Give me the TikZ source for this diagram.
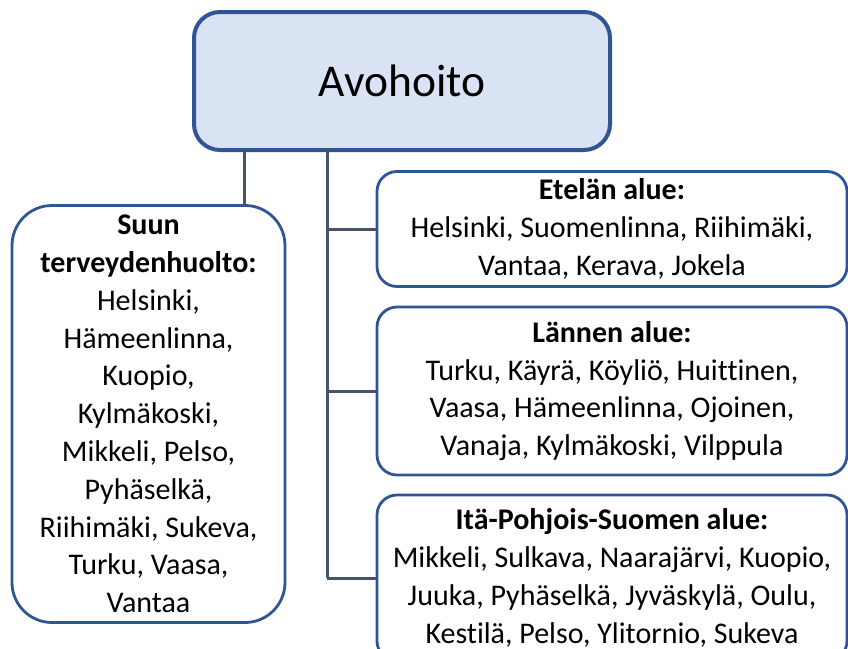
\documentclass[tikz,border=0pt]{standalone}
\usepackage{fontspec}
\setmainfont[Ligatures={NoCommon}]{Carlito}
\definecolor{bord}{HTML}{2F5597}
\definecolor{topfill}{HTML}{DAE3F3}
\definecolor{conn}{HTML}{44546A}
\begin{document}
\begin{tikzpicture}[x=1pt,y=-1pt,
  box/.style={draw=bord,line width=2.8pt,fill=white,align=center,inner sep=0pt,
    font=\fontsize{30}{37.8}\selectfont},
  topbox/.style={draw=bord,line width=4pt,fill=topfill,rounded corners=26pt,
    minimum width=416pt,minimum height=138pt,font=\fontsize{45.5}{56}\selectfont},
  link/.style={draw=conn,line width=3pt}]
\useasboundingbox (0,0) rectangle (848,648);
\node[topbox] (top) at (402,81) {Avohoito};
\node[box,rounded corners=40pt,minimum width=273pt,minimum height=417pt] (left) at (148.5,414)
  {\textbf{Suun}\\\textbf{terveydenhuolto:}\\Helsinki,\\Hämeenlinna,\\Kuopio,\\Kylmäkoski,\\Mikkeli, Pelso,\\Pyhäselkä,\\Riihimäki, Sukeva,\\Turku, Vaasa,\\Vantaa};
\node[box,rounded corners=20pt,minimum width=470pt,minimum height=115pt] (r1) at (612,229)
  {\textbf{Etelän alue:}\\Helsinki, Suomenlinna, Riihimäki,\\Vantaa, Kerava, Jokela};
\node[box,rounded corners=20pt,minimum width=470pt,minimum height=168pt] (r2) at (612,391)
  {\textbf{Lännen alue:}\\Turku, Käyrä, Köyliö, Huittinen,\\Vaasa, Hämeenlinna, Ojoinen,\\Vanaja, Kylmäkoski, Vilppula};
\node[box,rounded corners=20pt,minimum width=470pt,minimum height=166pt] (r3) at (612,578)
  {\textbf{Itä-Pohjois-Suomen alue:}\\Mikkeli, Sulkava, Naarajärvi, Kuopio,\\Juuka, Pyhäselkä, Jyväskylä, Oulu,\\Kestilä, Pelso, Ylitornio, Sukeva};
\coordinate (c1) at (244,150);
\coordinate (c2) at (327,150);
\draw[link] (c1) -- (c1 |- left.north);
\draw[link] (c2) -- (c2 |- r3.west);
\draw[link] (c2 |- r1.west) -- (r1.west);
\draw[link] (c2 |- r2.west) -- (r2.west);
\draw[link] (c2 |- r3.west) -- (r3.west);
\end{tikzpicture}
\end{document}
